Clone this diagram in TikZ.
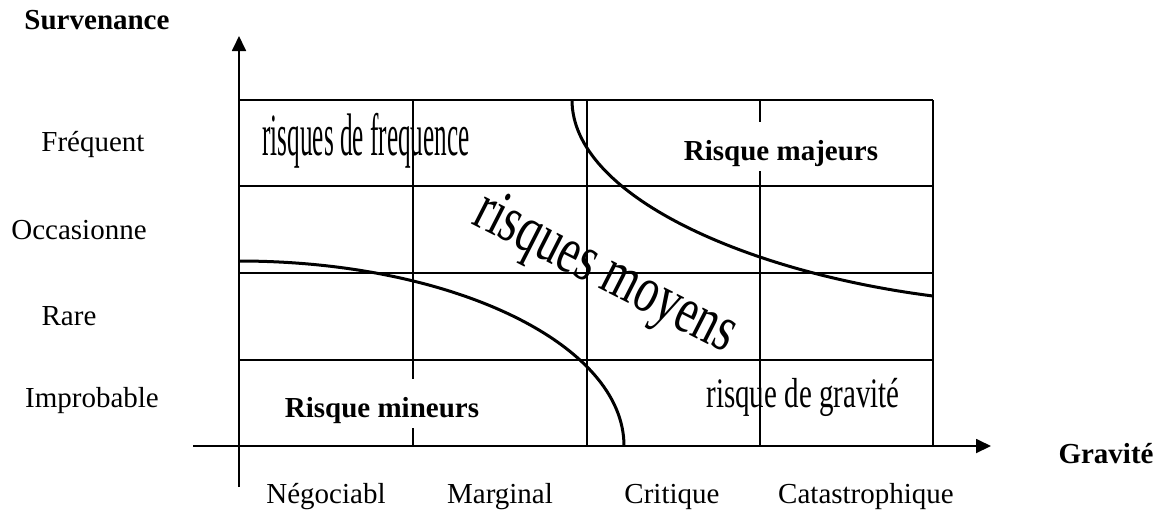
\documentclass[tikz,border=0pt]{standalone}
\usepackage{fontspec}
\setmainfont{Liberation Serif}
\usepackage{graphicx}
\usetikzlibrary{arrows.meta}
\begin{document}
\begin{tikzpicture}[x=0.5pt,y=-0.5pt,
  gridline/.style={line width=0.9pt},
  curveline/.style={line width=1.5pt},
  axisline/.style={line width=0.9pt,-{Triangle[length=7.5pt,width=7pt]}},
  lbl/.style={anchor=base,inner sep=0pt,font=\fontsize{14.5}{17}\selectfont},
  blbl/.style={anchor=base,inner sep=0pt,font=\fontsize{14.5}{17}\selectfont\bfseries},
  boxlbl/.style={blbl,fill=white,text height=19pt,text depth=5.5pt,inner xsep=2pt}]
\useasboundingbox (0,0) rectangle (1165,510);
% grid
\foreach \yy in {100,186,273,360} \draw[gridline] (239,\yy) -- (933,\yy);
\foreach \xx in {413,587,760,933} \draw[gridline] (\xx,100) -- (\xx,446);
% axes
\coordinate (xs) at (193,446);
\coordinate (xe) at (991,446);
\coordinate (ys) at (239,487);
\coordinate (ye) at (239,36);
\draw[axisline] (xs) -- (xe);
\draw[axisline] (ys) -- (ye);
% boxed labels (cut the grid lines)
\node[boxlbl] (maj) at (781,160) {Risque majeurs};
\node[boxlbl] (min) at (382,417) {Risque mineurs};
% curves
\draw[curveline] (239,261) arc[start angle=90,end angle=0,x radius=192.5pt,y radius=92.5pt];
\draw[curveline] (572,100) .. controls (572,195) and (745,272) .. (933,296);
% axis titles
\node[blbl] (surv) at (97,29) {Survenance};
\node[blbl] (grav) at (1106,463) {Gravité};
% row labels
\node[lbl] (freq) at (93,151) {Fréquent};
\node[lbl] (occ) at (79,239) {Occasionne};
\node[lbl] (rare) at (69,325) {Rare};
\node[lbl] (impr) at (92,407) {Improbable};
% column labels
\node[lbl] (neg) at (326,503) {Négociabl};
\node[lbl] (marg) at (500,503) {Marginal};
\node[lbl] (crit) at (672,503) {Critique};
\node[lbl] (cata) at (866,503) {Catastrophique};
% zone labels
\node[anchor=base,inner sep=0pt] (rf) at (366,155) {\scalebox{0.42}[1]{\fontsize{30}{36}\selectfont risques de frequence}};
\node[anchor=base,inner sep=0pt] (rg) at (803,407) {\scalebox{0.69}[1]{\fontsize{21}{25}\selectfont risque de gravité}};
\node[anchor=base,inner sep=0pt,rotate=-27] (rm) at (598,288) {\scalebox{0.70}[1]{\fontsize{33}{39}\selectfont risques moyens}};
\end{tikzpicture}
\end{document}
